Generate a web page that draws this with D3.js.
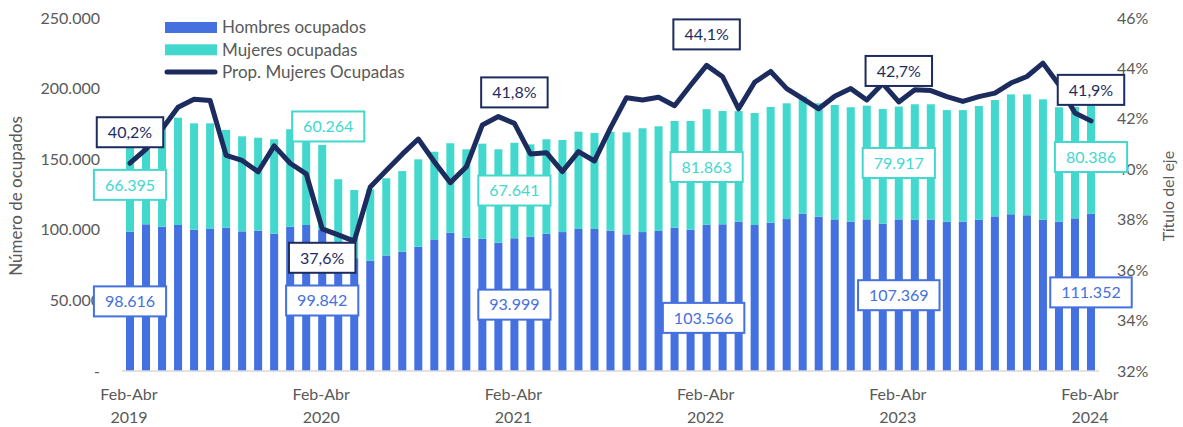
<!DOCTYPE html>
<html lang="es">
  <head>
    <meta charset="utf-8">
    <title>Ocupados por sexo</title>
    <script src="https://d3js.org/d3.v7.js"></script>
    <style>
      body { margin: 0; background: white; }
      svg text { font-family: Lato, "Open Sans", sans-serif; }
    </style>
  </head>
  <body>
  <script>

// ---- data ----
var meses = ["Ene","Feb","Mar","Abr","May","Jun","Jul","Ago","Sep","Oct","Nov","Dic"];

// trimestres moviles Feb-Abr 2019 ... Feb-Abr 2024
var periodos = d3.range(61).map(function(i) {
  var ini = meses[(1 + i) % 12], fin = meses[(3 + i) % 12];
  return { mes: ini + "-" + fin, anio: 2019 + Math.floor((i + 3) / 12) };
});

var hombres = [98616, 103900, 102200, 103400, 100100, 100600, 101500, 98900, 99400, 97200,
  102200, 103400, 99842, 85000, 79900, 78100, 81800, 84500, 88000, 93200,
  97900, 94400, 93700, 90900, 93999, 95100, 97200, 98400, 100600, 100600,
  99400, 96800, 98400, 99200, 101500, 100100, 103566, 103900, 105700, 103400,
  105000, 107600, 111400, 109300, 107400, 105700, 107400, 104300, 107369, 107200,
  107200, 105700, 105700, 107200, 109500, 111000, 110300, 107200, 105700, 108100, 111352];

var mujeres = [66395, 71600, 72800, 76000, 75300, 74800, 69200, 67300, 65800, 66900,
  69000, 68400, 60264, 50800, 48300, 50600, 54700, 57100, 61900, 62100,
  63400, 62600, 67300, 66100, 67641, 65400, 66900, 65200, 68900, 68000,
  70000, 72200, 73500, 74100, 75600, 77000, 81863, 80200, 78400, 79300,
  82000, 82000, 82900, 80300, 81000, 81100, 80500, 81300, 79917, 81700,
  81700, 79100, 79100, 80500, 82400, 84900, 85600, 85200, 81100, 79000, 80386];

var propMujeres = [40.24, 40.8, 41.6, 42.46, 42.78, 42.73, 40.55, 40.35, 39.9, 40.93,
  40.24, 39.82, 37.64, 37.4, 37.15, 39.3, 39.95, 40.6, 41.2, 40.3,
  39.47, 40.1, 41.76, 42.09, 41.82, 40.61, 40.66, 39.91, 40.7, 40.33,
  41.64, 42.84, 42.75, 42.86, 42.52, 43.33, 44.12, 43.67, 42.4, 43.45,
  43.88, 43.2, 42.8, 42.4, 42.9, 43.2, 42.75, 43.4, 42.67, 43.15,
  43.12, 42.88, 42.69, 42.88, 43.02, 43.42, 43.68, 44.21, 43.35, 42.23, 41.92];

var ticksIzq = [0, 50000, 100000, 150000, 200000, 250000];
var ticksDer = [32, 34, 36, 38, 40, 42, 44, 46];
var etiquetados = [0, 12, 24, 36, 48, 60];

// ---- layout ----
var w = 1183, h = 427;
var colHombres = "#4470e0", colMujeres = "#42d8ce", colProp = "#1d2c5e", gris = "#595959";

var loc = d3.formatLocale({decimal: ",", thousands: ".", grouping: [3], currency: ["", ""]});
var fmtMiles = loc.format(",");
var fmtPct = loc.format(".1f");

var svg = d3.select("body").append("svg")
  .attr("width", w).attr("height", h);

var x = d3.scaleBand()
  .domain(d3.range(periodos.length))
  .range([122, 1099])
  .paddingInner(0.5)
  .paddingOuter(0.25);

var yIzq = d3.scaleLinear().domain([0, 250000]).range([371, 18]);
var yDer = d3.scaleLinear().domain([32, 46]).range([371, 18]);

var cx = function(i) { return x(i) + x.bandwidth() / 2; };

// left axis labels
svg.append("g").selectAll("text")
  .data(ticksIzq).join("text")
    .attr("x", 100)
    .attr("y", d => yIzq(d))
    .attr("dy", "0.35em")
    .attr("text-anchor", "end")
    .style("font-size", "16px")
    .attr("fill", gris)
    .text(d => d === 0 ? "-" : fmtMiles(d));

// right axis labels
svg.append("g").selectAll("text")
  .data(ticksDer).join("text")
    .attr("x", 1117)
    .attr("y", d => yDer(d))
    .attr("dy", "0.35em")
    .style("font-size", "16px")
    .attr("fill", gris)
    .text(d => d + "%");

// axis titles
svg.append("text")
  .attr("transform", "translate(22,196) rotate(-90)")
  .attr("text-anchor", "middle")
  .style("font-size", "17px")
  .attr("fill", gris)
  .text("Número de ocupados");

svg.append("text")
  .attr("transform", "translate(1174,196) rotate(-90)")
  .attr("text-anchor", "middle")
  .style("font-size", "16px")
  .attr("fill", gris)
  .text("Título del eje");

// bars
var idx = d3.range(periodos.length);
svg.append("g").selectAll("rect")
  .data(idx).join("rect")
    .attr("x", i => x(i))
    .attr("width", x.bandwidth())
    .attr("y", i => yIzq(hombres[i]))
    .attr("height", i => yIzq(0) - yIzq(hombres[i]))
    .attr("fill", colHombres);

svg.append("g").selectAll("rect")
  .data(idx).join("rect")
    .attr("x", i => x(i))
    .attr("width", x.bandwidth())
    .attr("y", i => yIzq(hombres[i] + mujeres[i]))
    .attr("height", i => yIzq(hombres[i]) - yIzq(hombres[i] + mujeres[i]))
    .attr("fill", colMujeres);

// x axis line
svg.append("line")
  .attr("x1", 122).attr("x2", 1099)
  .attr("y1", yIzq(0)).attr("y2", yIzq(0))
  .attr("stroke", "#d9d9d9").attr("stroke-width", 1.5);

// x labels, one per year
var xl = svg.append("g").selectAll("text")
  .data(etiquetados).join("text")
    .attr("text-anchor", "middle")
    .style("font-size", "16px")
    .attr("fill", gris);
xl.append("tspan").attr("x", i => cx(i) - 1).attr("y", 400).text(i => periodos[i].mes);
xl.append("tspan").attr("x", i => cx(i) - 1).attr("y", 423).text(i => periodos[i].anio);

// proportion line
var linea = d3.line()
  .x(i => cx(i))
  .y(i => yDer(propMujeres[i]));

svg.append("path")
  .datum(idx)
  .attr("d", linea)
  .attr("fill", "none")
  .attr("stroke", colProp)
  .attr("stroke-width", 5)
  .attr("stroke-linejoin", "round")
  .attr("stroke-linecap", "round");

// data labels
function etiqueta(px, py, txt, col) {
  var g = svg.append("g");
  var t = g.append("text")
    .attr("x", px).attr("y", py)
    .attr("dy", "0.36em")
    .attr("text-anchor", "middle")
    .style("font-size", "16px")
    .attr("fill", col)
    .text(txt);
  var bb = t.node().getBBox();
  g.insert("rect", "text")
    .attr("x", px - bb.width / 2 - 11)
    .attr("y", py - 15)
    .attr("width", bb.width + 22)
    .attr("height", 30)
    .attr("fill", "white")
    .attr("stroke", col)
    .attr("stroke-width", 2);
}

// manual nudges as in the original chart
var despMuj = {12: [6, -61]};
var despHom = {36: [-3, 20]};
var despProp = {12: 29};

etiquetados.forEach(function(i) {
  var m = despHom[i] || [0, 0];
  etiqueta(cx(i) + m[0], (yIzq(0) + yIzq(hombres[i])) / 2 + m[1], fmtMiles(hombres[i]), colHombres);
  var f = despMuj[i] || [0, 0];
  etiqueta(cx(i) + f[0], (yIzq(hombres[i]) + yIzq(hombres[i] + mujeres[i])) / 2 + f[1], fmtMiles(mujeres[i]), colMujeres);
  var dp = despProp[i] !== undefined ? despProp[i] : -31;
  etiqueta(cx(i), yDer(propMujeres[i]) + dp, fmtPct(propMujeres[i]) + "%", colProp);
});

// legend
var leyenda = [
  {nombre: "Hombres ocupados", col: colHombres, tipo: "rect"},
  {nombre: "Mujeres ocupadas", col: colMujeres, tipo: "rect"},
  {nombre: "Prop. Mujeres Ocupadas", col: colProp, tipo: "line"}
];
var lg = svg.append("g").selectAll("g")
  .data(leyenda).join("g")
    .attr("transform", (d, i) => "translate(165," + (27.5 + i * 22.3) + ")");
lg.filter(d => d.tipo === "rect").append("rect")
  .attr("x", 0).attr("y", -5.5).attr("width", 52).attr("height", 11)
  .attr("fill", d => d.col);
lg.filter(d => d.tipo === "line").append("line")
  .attr("x1", 2).attr("x2", 50).attr("y1", 0).attr("y2", 0)
  .attr("stroke", d => d.col).attr("stroke-width", 5)
  .attr("stroke-linecap", "round");
lg.append("text")
  .attr("x", 57).attr("y", 0).attr("dy", "0.35em")
  .style("font-size", "17px")
  .attr("fill", gris)
  .text(d => d.nombre);

  </script>
  </body>
</html>
